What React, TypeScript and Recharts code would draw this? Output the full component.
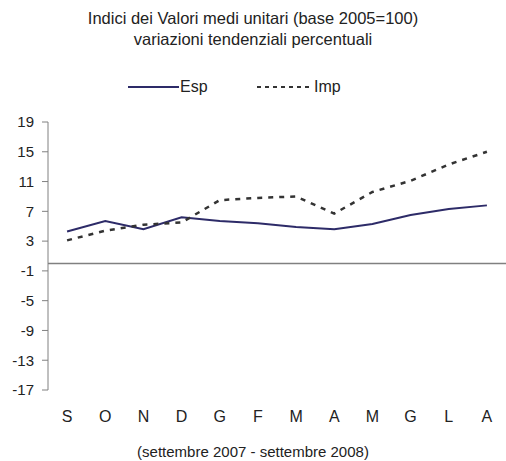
import React from "react";
import { LineChart, Line, XAxis, YAxis, ReferenceLine } from "recharts";

const months = ["S", "O", "N", "D", "G", "F", "M", "A", "M", "G", "L", "A"];
const esp = [4.3, 5.7, 4.6, 6.2, 5.7, 5.4, 4.9, 4.6, 5.3, 6.5, 7.3, 7.8];
const imp = [3.1, 4.4, 5.2, 5.5, 8.5, 8.8, 9.0, 6.7, 9.6, 11.1, 13.3, 15.0];
const yTicks = [-17, -13, -9, -5, -1, 3, 7, 11, 15, 19];

const data = months.map((m, i) => ({ idx: i, m, esp: esp[i], imp: imp[i] }));

const FONT = "'Liberation Sans', Arial, sans-serif";
const TXT = "#222";
const ESP_COLOR = "#2D2B68";
const IMP_COLOR = "#333333";

export default function App() {
  return (
    <div style={{ position: "absolute", left: 0, top: 0, width: 506, height: 461, background: "#fff", fontFamily: FONT }}>
      <div style={{ position: "absolute", left: 0, top: 8, width: 506, textAlign: "center", fontSize: 16.5, color: TXT, lineHeight: "21px" }}>
        <div>Indici dei Valori medi unitari (base 2005=100)</div>
        <div>variazioni tendenziali percentuali</div>
      </div>
      <div style={{ position: "absolute", left: 0, top: 77, width: 506, height: 20, fontSize: 16, color: TXT }}>
        <svg width={506} height={20} style={{ position: "absolute", left: 0, top: 0 }}>
          <line x1={128} y1={10} x2={179} y2={10} stroke={ESP_COLOR} strokeWidth={2} />
          <line x1={257} y1={10} x2={311} y2={10} stroke={IMP_COLOR} strokeWidth={2} strokeDasharray="4 4" />
        </svg>
        <span style={{ position: "absolute", left: 180, top: 0, lineHeight: "20px" }}>Esp</span>
        <span style={{ position: "absolute", left: 314, top: 0, lineHeight: "20px" }}>Imp</span>
      </div>
      <LineChart
        width={506}
        height={461}
        data={data}
        margin={{ top: 122, right: 0, bottom: 41, left: 0 }}
        style={{ fontFamily: FONT }}
      >
        <XAxis
          dataKey="idx"
          type="category"
          scale="band"
          tickFormatter={(v: number) => months[v]}
          axisLine={false}
          tickLine={false}
          tickSize={0}
          tickMargin={21}
          height={30}
          interval={0}
          tick={{ fill: TXT, fontSize: 16 }}
        />
        <YAxis
          domain={[-17, 19]}
          ticks={yTicks}
          interval={0}
          width={48}
          axisLine={{ stroke: "#808080" }}
          tickLine={{ stroke: "#808080" }}
          tickSize={6}
          tickMargin={8}
          tick={{ fill: TXT, fontSize: 15 }}
        />
        <ReferenceLine y={0} stroke="#808080" strokeWidth={1.5} ifOverflow="extendDomain" />
        <Line type="linear" dataKey="esp" stroke={ESP_COLOR} strokeWidth={2} dot={false} isAnimationActive={false} />
        <Line type="linear" dataKey="imp" stroke={IMP_COLOR} strokeWidth={2.5} strokeDasharray="5 6" dot={false} isAnimationActive={false} />
      </LineChart>
      <div style={{ position: "absolute", left: 0, top: 442, width: 506, textAlign: "center", fontSize: 15, color: TXT, lineHeight: "20px" }}>
        (settembre 2007 - settembre 2008)
      </div>
    </div>
  );
}
